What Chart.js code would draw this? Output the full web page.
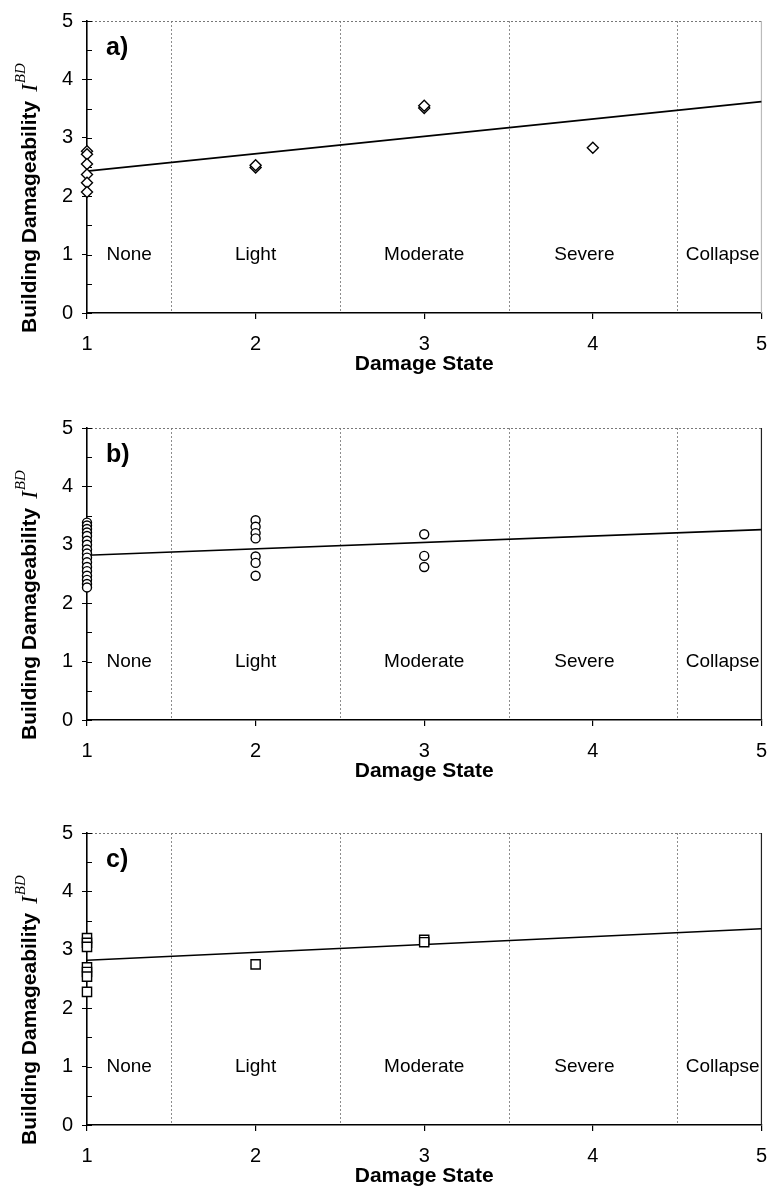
<!DOCTYPE html>
<html>
<head>
<meta charset="utf-8">
<title>Building Damageability vs Damage State</title>
<script src="https://cdn.jsdelivr.net/npm/chart.js@4.4.1/dist/chart.umd.min.js"></script>
<style>
  html, body { margin: 0; padding: 0; background: #fff; overflow: hidden; width: 770px; height: 1189px; }
  .panel { position: absolute; left: 0; width: 780px; height: 405px; }
</style>
</head>
<body>
<div class="panel" style="top:0px"><canvas id="chartA" width="780" height="405"></canvas></div>
<div class="panel" style="top:407px"><canvas id="chartB" width="780" height="405"></canvas></div>
<div class="panel" style="top:812px"><canvas id="chartC" width="780" height="405"></canvas></div>
<script>
// damage state regions along the x axis
const stateNames = ['None', 'Light', 'Moderate', 'Severe', 'Collapse'];
const stateLabelX = [1.25, 2, 3, 3.95, 4.77];
const stateBounds = [1.5, 2.5, 3.5, 4.5];
const xTicks = [1, 2, 3, 4, 5];
const yTicks = [0, 1, 2, 3, 4, 5];
const trendX = [1, 5];

// a) diamonds
const stateA = [1, 1, 1, 1, 1, 1, 2, 2, 3, 3, 4];
const valueA = [2.77, 2.72, 2.55, 2.37, 2.23, 2.07, 2.49, 2.53, 3.51, 3.55, 2.83];
const trendA = [2.43, 3.62];

// b) circles
const stateB = [1, 1, 1, 1, 1, 1, 1, 1, 1, 1, 1, 1, 1, 1, 1, 1, 1,
                2, 2, 2, 2, 2, 2, 2, 3, 3, 3];
const valueB = [3.38, 3.33, 3.27, 3.21, 3.15, 3.07, 3.00, 2.92, 2.85, 2.78, 2.70, 2.62, 2.55, 2.47, 2.40, 2.33, 2.27,
                3.42, 3.31, 3.20, 3.11, 2.80, 2.69, 2.47, 3.18, 2.81, 2.62];
const trendB = [2.82, 3.26];

// c) squares
const stateC = [1, 1, 1, 1, 1, 1, 1, 2, 3, 3];
const valueC = [3.20, 3.12, 3.05, 2.70, 2.62, 2.54, 2.28, 2.75, 3.17, 3.13];
const trendC = [2.82, 3.36];

const FONT = '"Liberation Sans", Arial, sans-serif';

const panelDecor = {
  id: 'panelDecor',
  beforeDatasetsDraw(chart, args, opts) {
    const { ctx, chartArea: a, scales: { x, y } } = chart;
    const seg = (x1, y1, x2, y2) => { ctx.beginPath(); ctx.moveTo(x1, y1); ctx.lineTo(x2, y2); ctx.stroke(); };
    ctx.save();

    // dotted boundaries between damage states and the top frame
    ctx.strokeStyle = '#8c8c8c';
    ctx.lineWidth = 1;
    ctx.setLineDash([2, 2]);
    stateBounds.forEach(b => {
      const px = Math.round(x.getPixelForValue(b)) + 0.5;
      seg(px, a.top, px, a.bottom);
    });
    ctx.strokeStyle = '#777';
    seg(a.left, a.top + 0.5, a.right, a.top + 0.5);
    ctx.setLineDash([]);

    // right frame
    ctx.strokeStyle = opts.rightColor;
    ctx.lineWidth = 1.2;
    seg(a.right, a.top, a.right, a.bottom);

    // short inward ticks every half unit on the y axis
    ctx.strokeStyle = '#000';
    ctx.lineWidth = 1;
    for (let v = 0; v <= 5; v += 0.5) {
      const py = Math.round(y.getPixelForValue(v)) + 0.5;
      seg(a.left, py, a.left + 5, py);
    }

    // damage state names
    ctx.fillStyle = '#000';
    ctx.font = '19px ' + FONT;
    ctx.textAlign = 'center';
    ctx.textBaseline = 'middle';
    stateNames.forEach((n, i) => ctx.fillText(n, x.getPixelForValue(stateLabelX[i]), y.getPixelForValue(1)));

    // panel letter
    ctx.font = 'bold 25px ' + FONT;
    ctx.textAlign = 'left';
    ctx.fillText(opts.letter, a.left + 19, a.top + 27);

    // y axis title with superscript
    ctx.translate(30, a.bottom + 20);
    ctx.rotate(-Math.PI / 2);
    ctx.font = 'bold 21px ' + FONT;
    ctx.fillText('Building Damageability', 0, 0);
    let w = ctx.measureText('Building Damageability').width + 9;
    ctx.font = 'italic 23px "Liberation Serif", serif';
    ctx.fillText('I', w, 1);
    w += ctx.measureText('I').width + 1;
    ctx.font = 'italic 15px "Liberation Serif", serif';
    ctx.fillText('BD', w, -9);
    ctx.restore();
  }
};

function makePanel(id, letter, states, values, trend, shape, radius, rightColor) {
  return new Chart(document.getElementById(id), {
    type: 'scatter',
    data: {
      datasets: [
        {
          type: 'line',
          data: trendX.map((v, i) => ({ x: v, y: trend[i] })),
          borderColor: '#000',
          borderWidth: 1.6,
          pointRadius: 0,
          clip: false,
          order: 1
        },
        {
          data: states.map((v, i) => ({ x: v, y: values[i] })),
          pointStyle: shape,
          pointRadius: radius,
          backgroundColor: '#fff',
          borderColor: '#000',
          borderWidth: 1.4,
          clip: false,
          order: 0
        }
      ]
    },
    options: {
      responsive: false,
      animation: false,
      events: [],
      layout: { padding: { top: 15, right: 0, bottom: 28, left: 0 } },
      plugins: {
        legend: { display: false },
        tooltip: { enabled: false },
        panelDecor: { letter: letter, rightColor: rightColor }
      },
      scales: {
        x: {
          type: 'linear',
          min: 1,
          max: 5,
          afterBuildTicks: s => { s.ticks = xTicks.map(v => ({ value: v })); },
          afterFit: s => { s.height = 64; },
          ticks: { font: { family: FONT, size: 20 }, color: '#000', padding: 13, maxRotation: 0 },
          grid: { drawOnChartArea: false, tickLength: 6, color: '#000', lineWidth: 1.2 },
          border: { color: '#000', width: 1.6 },
          title: {
            display: true,
            text: 'Damage State',
            font: { family: FONT, size: 21, weight: 'bold' },
            color: '#000',
            padding: 0
          }
        },
        y: {
          min: 0,
          max: 5,
          afterFit: s => { s.width = 87; },
          ticks: {
            stepSize: 0.5,
            font: { family: FONT, size: 20 },
            color: '#000',
            padding: 9,
            callback: v => (yTicks.includes(v) ? v : '')
          },
          grid: {
            drawOnChartArea: false,
            tickLength: 5,
            lineWidth: 1,
            tickColor: c => (yTicks.includes(c.tick.value) ? '#000' : 'rgba(0,0,0,0)')
          },
          border: { color: '#000', width: 1.6 }
        }
      }
    },
    plugins: [panelDecor]
  });
}

makePanel('chartA', 'a)', stateA, valueA, trendA, 'rectRot', 5.5, '#bbb');
makePanel('chartB', 'b)', stateB, valueB, trendB, 'circle', 4.5, '#222');
makePanel('chartC', 'c)', stateC, valueC, trendC, 'rect', 6.5, '#222');
</script>
</body>
</html>
